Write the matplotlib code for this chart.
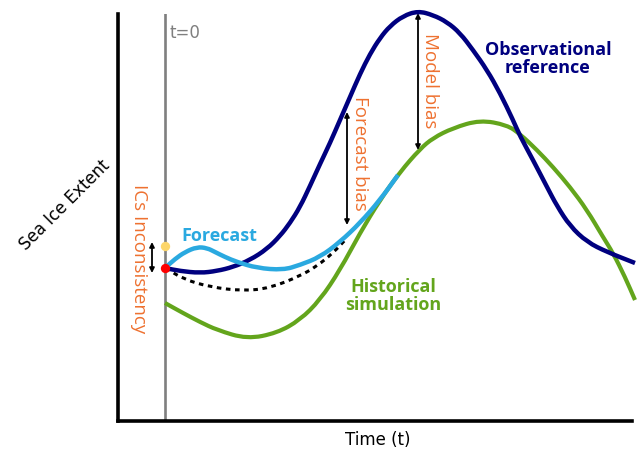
import numpy as np
from matplotlib import pyplot as plt
from matplotlib.path import Path
from matplotlib.patches import PathPatch

# schematic values (x = time, y = extent, in picture units, y grows downward)
obs_x = [165, 180, 200, 217, 233, 250, 267, 280, 290, 300, 310, 320, 330, 340, 350, 360, 370,
         380, 390, 403, 418, 433, 447, 460, 473, 487, 500, 513, 520, 533, 547, 557, 570,
         587, 607, 635]
obs_y = [268, 271, 273, 271, 267, 260, 249, 236, 223, 207, 186, 164, 143, 120, 97, 74, 54,
         38, 26, 16, 11, 15, 22, 33, 50, 70, 93, 120, 136, 160, 187, 206, 226,
         242, 252, 263]

fc_x = [165, 175, 185, 197, 207, 215, 225, 237, 257, 283, 300, 320, 340, 360, 380, 398]
fc_y = [268, 259, 252, 247, 248, 252, 257, 262, 268, 270, 265, 257, 242, 223, 200, 175]

hist_x = [165, 183, 200, 217, 247, 277, 300, 320, 340, 360, 380, 400, 420, 433, 453, 480,
          507, 520, 537, 553, 570, 587, 603, 613, 625, 635]
hist_y = [303, 313, 322, 330, 339, 333, 320, 300, 270, 233, 200, 172, 149, 138, 128, 120,
          125, 134, 150, 167, 187, 210, 237, 253, 277, 300]

nofc_x = [166, 183, 210, 243, 270, 300, 317, 333, 347]
nofc_y = [268, 279, 287, 291, 288, 276, 266, 253, 238]

# t=0, initial states and bias arrows
t0 = 165
ic_obs = 268
ic_model = 246
fc_bias = (347, 112, 225)
model_bias = (418, 13, 150)

navy = '#00007f'
blue = '#2aa9e0'
green = '#63a51c'
orange = '#ee7130'


def smooth_curve(xs, ys):
    # quadratic b-spline through the read points, drawn with bezier segments
    pts = np.column_stack([xs, ys]).astype(float)
    verts = [pts[0], (pts[0] + pts[1]) / 2]
    codes = [Path.MOVETO, Path.LINETO]
    for i in range(1, len(pts) - 1):
        verts += [pts[i], (pts[i] + pts[i + 1]) / 2]
        codes += [Path.CURVE3, Path.CURVE3]
    verts.append(pts[-1])
    codes.append(Path.LINETO)
    return Path(verts, codes)


def draw(ax, xs, ys, **kw):
    patch = PathPatch(smooth_curve(xs, ys), fill=False, capstyle='butt', joinstyle='round', **kw)
    ax.add_patch(patch)
    return patch


fig = plt.figure(figsize=(6.37, 4.51), dpi=100)
ax = fig.add_axes([118 / 637, 30 / 451, (632 - 118) / 637, (437 - 30) / 451])
ax.set_xlim(118, 632)
ax.set_ylim(421, 14)
ax.set_xticks([])
ax.set_yticks([])
for side in ['top', 'right']:
    ax.spines[side].set_visible(False)
for side in ['left', 'bottom']:
    ax.spines[side].set_linewidth(2.6)

ax.axvline(t0, color='#7f7f7f', lw=1.9, zorder=1)
ax.text(t0 + 5, 33, 't=0', color='#7f7f7f', fontsize=12, va='center', ha='left')

draw(ax, nofc_x, nofc_y, edgecolor='black', lw=2.2, ls=(0, (1.5, 1.5)), zorder=2)
draw(ax, hist_x, hist_y, edgecolor=green, lw=3.0, clip_on=False, zorder=3)
draw(ax, obs_x, obs_y, edgecolor=navy, lw=3.2, clip_on=False, zorder=4)
draw(ax, fc_x, fc_y, edgecolor=blue, lw=3.2, zorder=5)

ax.scatter([t0], [ic_model], s=45, color='#fdd66a', zorder=6, linewidths=0)
ax.scatter([t0], [ic_obs], s=45, color='#fe0000', zorder=6, linewidths=0)

arrow = dict(arrowstyle='<|-|>', color='black', lw=1.3, mutation_scale=7, shrinkA=0, shrinkB=0)
ax.annotate('', xy=(152, 242), xytext=(152, 273), arrowprops=arrow)
ax.annotate('', xy=(fc_bias[0], fc_bias[1]), xytext=(fc_bias[0], fc_bias[2]), arrowprops=arrow)
ax.annotate('', xy=(model_bias[0], model_bias[1]), xytext=(model_bias[0], model_bias[2]),
            arrowprops=arrow, annotation_clip=False)

ann = dict(family='Open Sans', fontsize=13.5, color=orange, rotation=-90, ha='center', va='center')
ax.text(139, 259, 'ICs Inconsistency', **ann)
ax.text(360, 153, 'Forecast bias', **ann)
ax.text(430, 81, 'Model bias', **ann)

lab = dict(family='Open Sans', fontsize=13, fontweight='bold', ha='center', va='center',
           linespacing=0.95)
ax.text(219, 236, 'Forecast', color=blue, **lab)
ax.text(548, 59, 'Observational\nreference', color=navy, **lab)
ax.text(393, 296, 'Historical\nsimulation', color=green, **lab)

fig.text(378 / 637, 1 - 440 / 451, 'Time (t)', fontsize=12, ha='center', va='center')
fig.text(65 / 637, 1 - 205 / 451, 'Sea Ice Extent', fontsize=12, ha='center', va='center',
         rotation=45)

fig.savefig('out.png', dpi=100)
